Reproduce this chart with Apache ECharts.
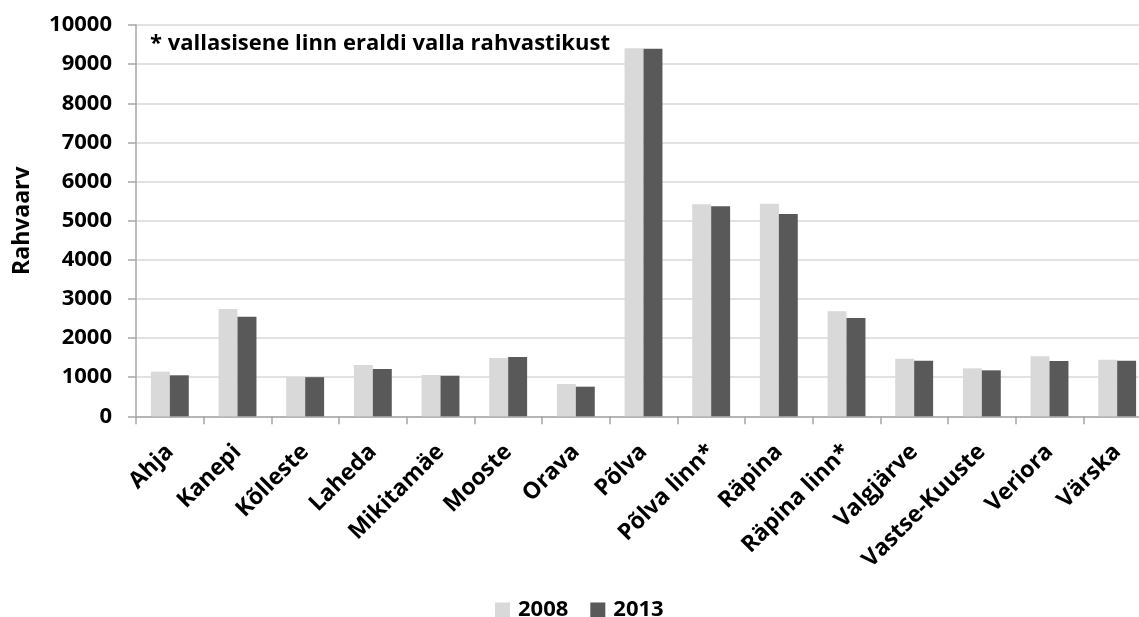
<!DOCTYPE html>
<html>
<head>
<meta charset="utf-8">
<script src="https://cdn.jsdelivr.net/npm/echarts@6/dist/echarts.min.js"></script>
<style>
html,body{margin:0;padding:0;background:#fff;overflow:hidden;width:1139px;height:617px;}
#c{width:1151px;height:617px;}
</style>
</head>
<body>
<div id="c"></div>
<script>
var categories = ["Ahja","Kanepi","Kõlleste","Laheda","Mikitamäe","Mooste","Orava","Põlva","Põlva linn*","Räpina","Räpina linn*","Valgjärve","Vastse-Kuuste","Veriora","Värska"];
var values2008 = [1140,2742,1005,1311,1055,1490,825,9404,5418,5433,2683,1473,1226,1533,1447];
var values2013 = [1048,2546,1000,1209,1038,1515,757,9395,5367,5170,2512,1421,1175,1413,1421];
var seriesNames = ["2008","2013"];
var yTicks = {min:0,max:10000,interval:1000};
var yTitle = "Rahvaarv";
var note = "* vallasisene linn eraldi valla rahvastikust";

var FONT = "'Open Sans', 'Noto Sans', sans-serif";
var chart = echarts.init(document.getElementById('c'), null, {renderer:'canvas'});
chart.setOption({
  animation:false,
  backgroundColor:'#ffffff',
  textStyle:{fontFamily:FONT},
  grid:{left:136,right:0,top:25,bottom:200.7,containLabel:false},
  legend:{
    data:seriesNames,
    left:495,top:599,padding:0,
    itemWidth:15,itemHeight:15,itemGap:22,
    icon:'rect',
    textStyle:{fontFamily:FONT,fontWeight:'bold',fontSize:22,color:'#000',padding:[0,0,0,3]}
  },
  graphic:[{
    type:'text',left:150,top:33,
    style:{text:note,fontFamily:FONT,fontWeight:'bold',fontSize:22,fill:'#000'}
  }],
  xAxis:{
    type:'category',data:categories,
    axisLine:{lineStyle:{color:'#a6a6a6',width:1.5}},
    axisTick:{show:true,length:8,lineStyle:{color:'#a6a6a6',width:1.5}},
    axisLabel:{interval:0,rotate:45,margin:32,fontFamily:FONT,fontWeight:'bold',fontSize:23,color:'#000'}
  },
  yAxis:{
    type:'value',min:yTicks.min,max:yTicks.max,interval:yTicks.interval,
    name:yTitle,nameLocation:'middle',nameGap:102,nameRotate:90,
    nameTextStyle:{fontFamily:FONT,fontWeight:'bold',fontSize:23,color:'#000'},
    axisLine:{show:true,lineStyle:{color:'#a6a6a6',width:1.5}},
    axisTick:{show:true,length:8,lineStyle:{color:'#a6a6a6',width:1.5}},
    axisLabel:{margin:24,fontFamily:FONT,fontWeight:'bold',fontSize:22,color:'#000',
      formatter:function(v){return String(v);}},
    splitLine:{show:true,lineStyle:{color:'#d9d9d9',width:1.5}}
  },
  series:[
    {name:seriesNames[0],type:'bar',data:values2008,barGap:'0%',barCategoryGap:'44%',
     itemStyle:{color:'#d9d9d9'}},
    {name:seriesNames[1],type:'bar',data:values2013,barGap:'0%',barCategoryGap:'44%',
     itemStyle:{color:'#595959'}}
  ]
});
</script>
</body>
</html>
